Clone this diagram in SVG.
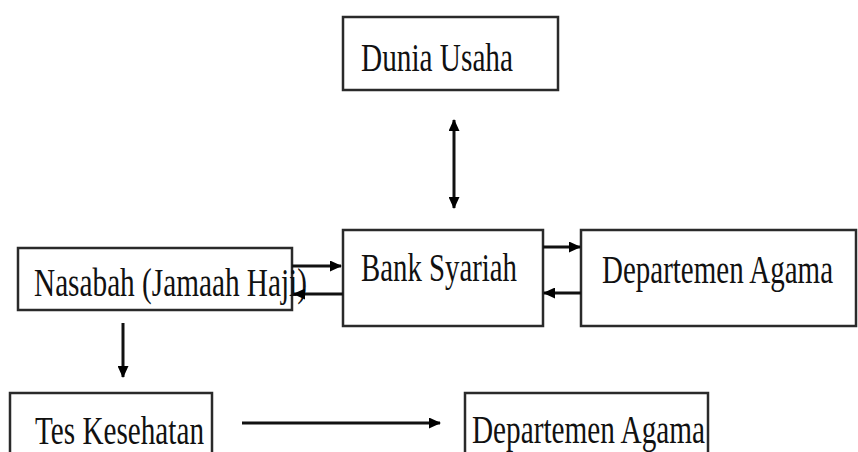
<svg xmlns="http://www.w3.org/2000/svg" width="858" height="452" viewBox="0 0 858 452">
<defs>
<marker id="ah" markerWidth="12" markerHeight="11" refX="11" refY="5.5" orient="auto-start-reverse" markerUnits="userSpaceOnUse">
<path d="M0,0 L12,5.5 L0,11 Z" fill="#000"/>
</marker>
<style>
.box{fill:#fff;stroke:#2a2a2a;stroke-width:2.5}
.lbl{font-family:"Liberation Serif","Times New Roman",serif;font-size:40px;fill:#111}
.con{stroke:#111;stroke-width:3;fill:none}
</style>
</defs>
<rect width="858" height="452" fill="#fff"/>
<g id="dunia-usaha">
<rect class="box" x="343" y="17" width="215" height="73"/>
<text class="lbl" x="361" y="71" textLength="152" lengthAdjust="spacingAndGlyphs">Dunia Usaha</text>
</g>
<g id="bank-syariah">
<rect class="box" x="343" y="230" width="200" height="96"/>
<text class="lbl" x="361" y="281" textLength="156" lengthAdjust="spacingAndGlyphs">Bank Syariah</text>
</g>
<g id="departemen-agama-1">
<rect class="box" x="581" y="230" width="275" height="96"/>
<text class="lbl" x="602" y="283" textLength="231" lengthAdjust="spacingAndGlyphs">Departemen Agama</text>
</g>
<g id="nasabah">
<rect class="box" x="18" y="248" width="274" height="62"/>
<text class="lbl" x="34" y="296" textLength="273" lengthAdjust="spacingAndGlyphs">Nasabah (Jamaah Haji)</text>
</g>
<g id="tes-kesehatan">
<rect class="box" x="10" y="393" width="202" height="62"/>
<text class="lbl" x="35" y="444" textLength="169" lengthAdjust="spacingAndGlyphs">Tes Kesehatan</text>
</g>
<g id="departemen-agama-2">
<rect class="box" x="465" y="393" width="243" height="62"/>
<text class="lbl" x="472" y="443" textLength="233" lengthAdjust="spacingAndGlyphs">Departemen Agama</text>
</g>
<g id="connectors">
<line class="con" x1="454" y1="120" x2="454" y2="208" marker-start="url(#ah)" marker-end="url(#ah)"/>
<line class="con" x1="292" y1="266" x2="341" y2="266" marker-end="url(#ah)"/>
<line class="con" x1="343" y1="294" x2="294" y2="294" marker-end="url(#ah)"/>
<line class="con" x1="543" y1="247" x2="580" y2="247" marker-end="url(#ah)"/>
<line class="con" x1="581" y1="293" x2="544" y2="293" marker-end="url(#ah)"/>
<line class="con" x1="123" y1="323" x2="123" y2="377" marker-end="url(#ah)"/>
<line class="con" x1="242" y1="423" x2="440" y2="423" marker-end="url(#ah)"/>
</g>
</svg>
